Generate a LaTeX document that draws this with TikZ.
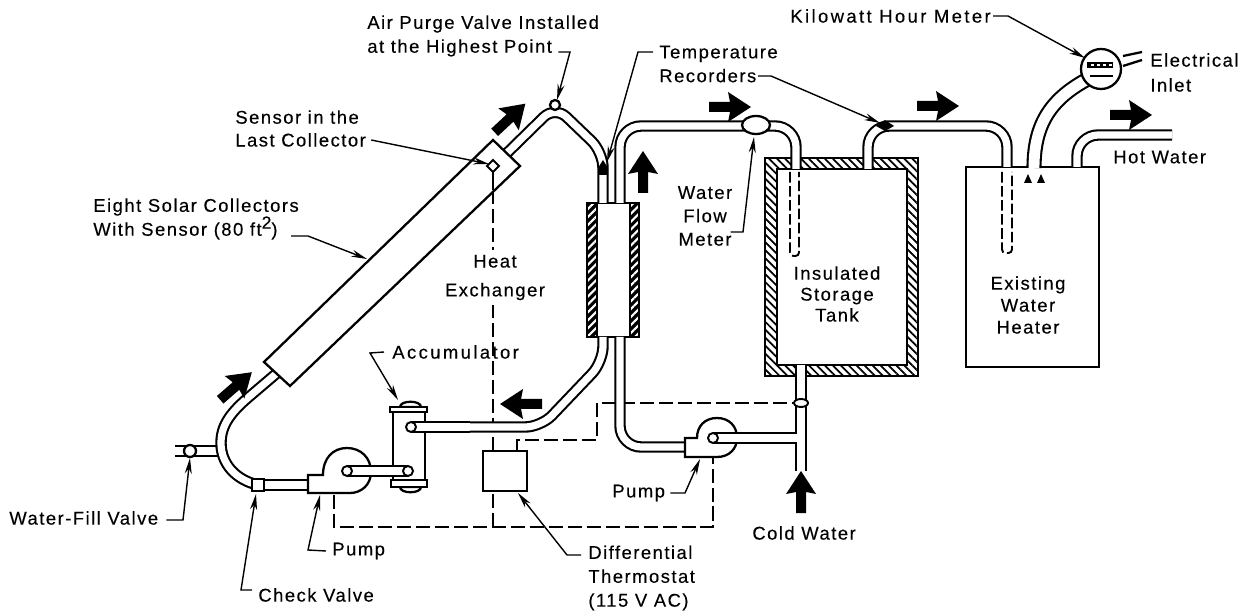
\documentclass[tikz,border=0pt]{standalone}
\usepackage{fontspec}
\setmainfont[LetterSpace=8,FakeBold=0.25]{Liberation Sans}
\usetikzlibrary{arrows.meta,patterns.meta}

\tikzset{
  lbl/.style={inner sep=0pt,align=left,font=\fontsize{10.5}{15.3}\selectfont},
  lblc/.style={inner sep=0pt,align=center,font=\fontsize{10.5}{15.3}\selectfont},
  part/.style={draw,line width=1.3pt,fill=white},
  pipe/.style={draw,line width=1.2pt,double,double distance=4.1pt},
  wire/.style={dashed,dash pattern=on 8pt off 2.8pt,line width=1.1pt},
  leader/.style={line width=.8pt,-{Stealth[length=9pt,width=4pt]}},
  flowarrow/.pic={\fill (-21,-5) -- (0,-5) -- (-2,-15) -- (21,0) -- (-2,15) -- (0,5) -- (-21,5) -- cycle;}
}

\begin{document}
\begin{tikzpicture}[x=0.02cm,y=-0.02cm]
\useasboundingbox (0,0) rectangle (1240,614);

%wires
\draw[line width=1.1pt] (493,172) -- (493,190);
\draw[wire] (493,190) -- (493,527);
\draw[wire] (334,495) -- (334,527) -- (713,527) -- (713,457);
\draw[wire] (517,451) -- (517,440) -- (597,440) -- (597,403) -- (797,403);

%storage tank and heat exchanger
\draw[line width=1.3pt,pattern={Lines[angle=-45,distance=3.2pt,line width=1pt]},even odd rule]
  (765,158) rectangle (918,376) (777,169) rectangle (907,365);
\draw[line width=1.3pt,preaction={fill=black},pattern={Lines[angle=45,distance=3.2pt,line width=1.2pt]},pattern color=white]
  (587,203) rectangle (597,337);
\draw[line width=1.3pt,preaction={fill=black},pattern={Lines[angle=45,distance=3.2pt,line width=1.2pt]},pattern color=white]
  (630,203) rectangle (639,337);
\draw[line width=1.3pt] (597,203) -- (630,203) (597,337) -- (630,337);

%water heater
\draw[line width=1.3pt] (966,167) rectangle (1099,367);

%collector loop
\draw[pipe] (175,451) -- (222,451);
\draw[pipe] (258,485) .. controls (236,480) and (221,464) .. (221,443) .. controls (221,425) and (231,412) .. (250,396) -- (277,373);
\draw[pipe,rounded corners=9pt] (505,155) -- (555,106) -- (603,152) -- (603,203);
\draw[pipe,rounded corners=9pt] (603,337) -- (603,362) -- (541,427) -- (470,427);
\draw[pipe] (258,485) -- (310,485);

%tank loop
\draw[pipe,rounded corners=12pt] (620,203) -- (620,126) -- (796,126) -- (796,169);
\draw[pipe,rounded corners=12pt] (620,337) -- (620,447) -- (686,447);
\draw[pipe] (801,365) -- (801,471);
\draw[pipe] (760,438) -- (801,438);
\draw[white,line width=4.1pt] (801,425) -- (801,450);
\draw[pipe,rounded corners=12pt] (868,169) -- (868,126) -- (1007,126) -- (1007,167);
\draw[pipe,rounded corners=12pt] (1077,167) -- (1077,135) -- (1172,135);
\draw[line width=1.2pt,double,double distance=6.2pt] (1034,168) .. controls (1034,125) and (1050,100) .. (1086,80);

%dip tubes
\draw[dashed,dash pattern=on 6pt off 2pt,line width=1.1pt,rounded corners=2pt] (790,172) -- (790,256) -- (799,256) -- (799,172);
\draw[dashed,dash pattern=on 6pt off 2pt,line width=1.1pt,rounded corners=2pt] (1002,172) -- (1002,253) -- (1012,253) -- (1012,172);

%collector
\draw[part] (493,140) -- (520,166) -- (290,386) -- (264,362) -- cycle;
\draw[part,line width=1.1pt] (493,160) -- (499,166) -- (493,172) -- (487,166) -- cycle;
\draw[line width=1.1pt] (493,172) -- (493,190);

%accumulator
\draw[part] (400,407) .. controls (400,400) and (421,400) .. (421,407) -- cycle;
\draw[part] (393,410) rectangle (425,483);
\draw[part] (390,407) rectangle (427,412);
\draw[part] (400,487) .. controls (400,494) and (421,494) .. (421,487) -- cycle;
\draw[part] (391,480) rectangle (427,487);
\draw[pipe] (411,427) -- (470,427);
\draw[part,line width=1.1pt] (411,427) circle (5);

%pumps
\draw[part] (308,475) -- (323,475) .. controls (323,458) and (333,448) .. (347,448) .. controls (361,448) and (371,458) .. (371,472) .. controls (371,485) and (361,493) .. (350,493) -- (308,493) -- cycle;
\draw[pipe] (347,471) -- (408,471);
\draw[part,line width=1.1pt] (347,471) circle (5);
\draw[part,line width=1.1pt] (408,471) circle (5);
\draw[part] (685,438) -- (697,438) .. controls (697,426) and (705,418) .. (717,418) .. controls (729,418) and (737,426) .. (737,438) .. controls (737,449) and (729,457) .. (717,457) -- (685,457) -- cycle;
\draw[pipe] (713,438) -- (760,438);
\draw[part,line width=1.1pt] (713,438) circle (5);

%valves and thermostat
\draw[part] (190,451) circle (6);
\draw[part] (252,479) rectangle (264,491);
\draw[part] (555,105) circle (5);
\draw[part] (756,125) ellipse (14 and 9);
\draw[part,line width=1.1pt] (801,403) ellipse (7 and 4);
\draw[part] (483,451) rectangle (527,491);
\fill (598,175) -- (598,168) -- (603,160) -- (608,168) -- (608,175) -- cycle;
\fill (876,126) -- (885,120) -- (894,126) -- (885,131) -- cycle;

%kilowatt hour meter
\node[draw,circle,line width=1.3pt,fill=white,minimum size=40*0.02cm,inner sep=0pt] (meter) at (1101,69) {};
\fill (1087,62) rectangle (1113,68);
\foreach \x in {1092,1098,1104,1110} \fill[white] (\x-1.5,64) rectangle (\x+1.5,66);
\draw[line width=1.1pt] (1090,76) -- (1113,76);
\draw[line width=1.3pt] (1123,56) -- (1142,52);
\draw[line width=1.3pt] (1123,66) -- (1142,60);
\fill (1024,183) -- (1032,183) -- (1028,174) -- cycle;
\fill (1037,183) -- (1045,183) -- (1041,174) -- cycle;

%flow arrows
\pic[rotate=41] at (236,386) {flowarrow};
\pic[rotate=43] at (510,118) {flowarrow};
\pic[rotate=90] at (643,172) {flowarrow};
\pic at (730,107) {flowarrow};
\pic at (938,106) {flowarrow};
\pic at (1131,115) {flowarrow};
\pic[rotate=180] at (521,404) {flowarrow};
\pic[rotate=90] at (801,492) {flowarrow};

%labels
\node[lbl,anchor=west] (airpurge) at (367,36) {Air Purge Valve Installed\\[-1.7pt]at the Highest Point};
\node[lbl,anchor=west] (sensor) at (235,128.5) {Sensor in the\\[-2.3pt]Last Collector};
\node[lbl,anchor=west] (collectors) at (93,219) {Eight Solar Collectors\\[-1.7pt]With Sensor (80 ft\raisebox{4pt}{\fontsize{10}{10}\selectfont 2})};
\node[lbl,anchor=west] (temprec) at (659,64) {Temperature\\[-1.7pt]Recorders};
\node[lbl,anchor=west] (kwh) at (790,16) {\addfontfeature{LetterSpace=13}Kilowatt Hour Meter};
\node[lbl,anchor=west] (inlet) at (1150,72.5) {Electrical\\[-1.1pt]Inlet};
\node[lbl,anchor=west] (hotwater) at (1113,157) {Hot Water};
\node[lblc] (flowmeter) at (705,216) {Water\\[-2pt]Flow\\[-2pt]Meter};
\node[lblc,fill=white,inner ysep=3pt] (exchanger) at (495,277.5) {Heat\\[1.1pt]Exchanger};
\node[lblc] (tank) at (837,294) {Insulated\\[-3.4pt]Storage\\[-3.4pt]Tank};
\node[lblc] (heater) at (1028,305) {Existing\\[-2.8pt]Water\\[-2.8pt]Heater};
\node[lbl,anchor=west] (accum) at (392,352) {\addfontfeature{LetterSpace=13}Accumulator};
\node[lbl,anchor=west] (pumpa) at (332,551) {Pump};
\node[lbl,anchor=west] (fill) at (9,518) {Water-Fill Valve};
\node[lbl,anchor=west] (check) at (258,595) {Check Valve};
\node[lbl,anchor=west] (pumpb) at (612,493) {Pump};
\node[lbl,anchor=west] (cold) at (752,533) {Cold Water};
\node[lbl,anchor=west] (thermo) at (588,578) {Differential\\[-1.7pt]Thermostat\\[-1.7pt](115 V AC)};

%leaders
\draw[leader] (airpurge.east |- 0,52) ++(-41,0) -- (570,52) -- (557,100);
\draw[leader] (sensor.east |- 0,140) ++(5,0) -- (489,164);
\draw[leader] (collectors.east |- 0,236) ++(-8,0) -- (308,236) -- (367,259);
\draw[leader] (temprec.west |- 0,52) ++(-6,0) -- (638,52) -- (607,162);
\draw[leader] (temprec.east |- 0,76) ++(-20,0) -- (771,76) -- (880,123);
\draw[leader] (kwh.east) ++(2,0) -- (1008,16) -- (1085,58);
\draw[leader] (flowmeter.east |- 0,232) ++(-2,0) -- (743,232) -- (754,137);
\draw[leader] (accum.west) ++(-8,0) -- (370,353) -- (398,400);
\draw[leader] (pumpa.west) ++(-6,0) -- (308,550) -- (320,495);
\draw[leader] (fill.east) ++(8,2) -- (183,520) -- (190,458);
\draw[leader] (check.west) ++(-6,-5) -- (241,590) -- (256,494);
\draw[leader] (pumpb.east) ++(5,0) -- (685,493) -- (700,459);
\draw[leader] (thermo.west |- 0,555) ++(-7,0) -- (567,555) -- (518,493);

\end{tikzpicture}
\end{document}
